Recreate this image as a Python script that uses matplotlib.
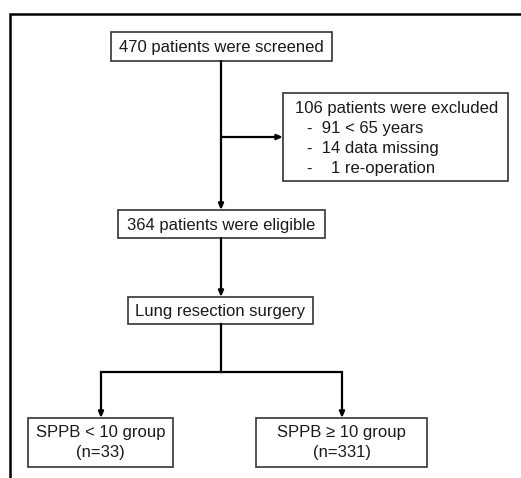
import matplotlib.pyplot as plt
from matplotlib.patches import Rectangle

plt.rcParams['font.family'] = ['Liberation Sans', 'DejaVu Sans']

# box labels
box_texts = [
    "470 patients were screened",
    "106 patients were excluded",
    "364 patients were eligible",
    "Lung resection surgery",
    "SPPB < 10 group\n(n=33)",
    "SPPB \u2265 10 group\n(n=331)",
]
excluded_items = ["-  91 < 65 years", "-  14 data missing", "-    1 re-operation"]

# box extents in pixel units: (x0, y0, x1, y1)
boxes = [
    (111, 32, 332, 61),
    (283, 93, 508, 181),
    (118, 210, 325, 238),
    (128, 297, 313, 324),
    (28, 418, 173, 467),
    (256, 418, 427, 467),
]

W, H = 521, 478
fig = plt.figure(figsize=(W / 100, H / 100), dpi=100)
ax = fig.add_axes([0, 0, 1, 1])
ax.set_xlim(0, W)
ax.set_ylim(H, 0)
ax.axis('off')

edge = '#333333'
fs = 12

# outer frame (cropped on right and bottom)
ax.plot([10, 10, W + 5], [H + 5, 14, 14], color='black', lw=1.8,
        solid_joinstyle='miter')

for (x0, y0, x1, y1) in boxes:
    ax.add_patch(Rectangle((x0, y0), x1 - x0, y1 - y0, fill=False,
                           edgecolor=edge, lw=1.2))

# centered labels
for i in [0, 2, 3]:
    x0, y0, x1, y1 = boxes[i]
    ax.text((x0 + x1) / 2, (y0 + y1) / 2 + 1, box_texts[i], ha='center',
            va='center', fontsize=fs, color='#1a1a1a')

for i in [4, 5]:
    x0, y0, x1, y1 = boxes[i]
    for k, line in enumerate(box_texts[i].split('\n')):
        ax.text((x0 + x1) / 2, 433 + 19 * k, line, ha='center',
                va='center', fontsize=fs, color='#1a1a1a')

# excluded box
x0, y0, x1, y1 = boxes[1]
ax.text(x0 + 12, 108, box_texts[1], ha='left', va='center', fontsize=fs,
        color='#1a1a1a')
for k, item in enumerate(excluded_items):
    ax.text(x0 + 24, 128 + 20 * k, item, ha='left', va='center',
            fontsize=fs, color='#1a1a1a')

cx = 221
lw = 1.6
arrow = dict(arrowstyle='-|>,head_length=0.35,head_width=0.15',
             color='black', lw=lw, shrinkA=0, shrinkB=0)


def arr(xa, ya, xb, yb):
    ax.annotate('', xy=(xb, yb), xytext=(xa, ya), arrowprops=arrow)


arr(cx, 61, cx, 210)
arr(cx, 137, 283, 137)
arr(cx, 238, cx, 297)
ax.plot([cx, cx], [324, 372], color='black', lw=lw)
ax.plot([101, 342], [372, 372], color='black', lw=lw,
        solid_capstyle='projecting')
arr(101, 372, 101, 418)
arr(342, 372, 342, 418)

fig.savefig('out.png', dpi=100, facecolor='white')
